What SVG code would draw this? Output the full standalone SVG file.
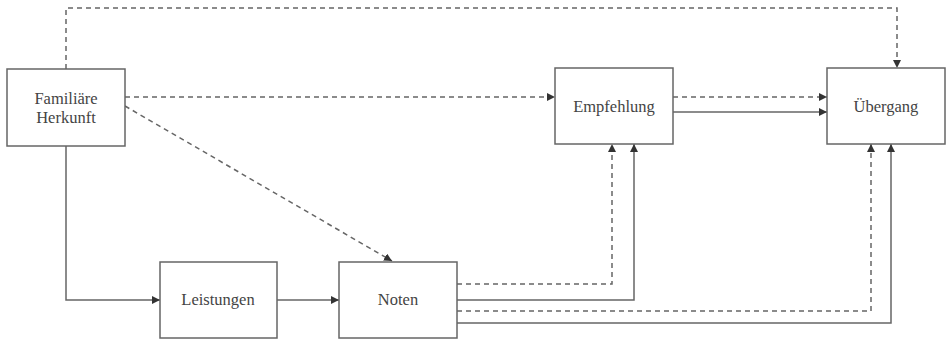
<svg xmlns="http://www.w3.org/2000/svg" width="946" height="340" viewBox="0 0 946 340">
<style>
.box{fill:#fff;stroke:#666;stroke-width:1.5}
.t{font-family:'Liberation Serif','Times New Roman','DejaVu Serif',serif;font-size:16.5px;fill:#444;text-anchor:middle}
.c{fill:none;stroke:#666;stroke-width:1.5}
.d{stroke-dasharray:5,4}
</style>
<defs>
<marker id="a" viewBox="0 0 10 10" refX="10" refY="5" markerWidth="8" markerHeight="8" markerUnits="userSpaceOnUse" orient="auto">
<path d="M0,0 L10,5 L0,10 z" fill="#333"/>
</marker>
</defs>
<g id="connectors">
<path class="c d" d="M66,69 V8 H897 V68" marker-end="url(#a)"/>
<path class="c d" d="M125,97 H555" marker-end="url(#a)"/>
<path class="c d" d="M125,106 L392,261" marker-end="url(#a)"/>
<path class="c" d="M66,146 V300 H160" marker-end="url(#a)"/>
<path class="c" d="M277,300 H339" marker-end="url(#a)"/>
<path class="c d" d="M673,97 H827" marker-end="url(#a)"/>
<path class="c" d="M673,112 H827" marker-end="url(#a)"/>
<path class="c d" d="M457,284 H612 V144" marker-end="url(#a)"/>
<path class="c" d="M457,300 H634 V144" marker-end="url(#a)"/>
<path class="c d" d="M457,311 H871 V144" marker-end="url(#a)"/>
<path class="c" d="M457,323 H891 V144" marker-end="url(#a)"/>
</g>
<g id="familiaere">
<rect class="box" x="7" y="69" width="118" height="77"/>
<text class="t" x="66" y="104" font-family="Liberation Serif, serif">Familiäre</text>
<text class="t" x="66" y="123" font-family="Liberation Serif, serif">Herkunft</text>
</g>
<g id="empfehlung">
<rect class="box" x="555" y="68" width="118" height="76"/>
<text class="t" x="614" y="112" font-family="Liberation Serif, serif">Empfehlung</text>
</g>
<g id="uebergang">
<rect class="box" x="827" y="68" width="118" height="76"/>
<text class="t" x="886" y="112" font-family="Liberation Serif, serif">Übergang</text>
</g>
<g id="leistungen">
<rect class="box" x="160" y="262" width="117" height="76"/>
<text class="t" x="218" y="305" font-family="Liberation Serif, serif">Leistungen</text>
</g>
<g id="noten">
<rect class="box" x="339" y="262" width="118" height="76"/>
<text class="t" x="398" y="305" font-family="Liberation Serif, serif">Noten</text>
</g>
</svg>
